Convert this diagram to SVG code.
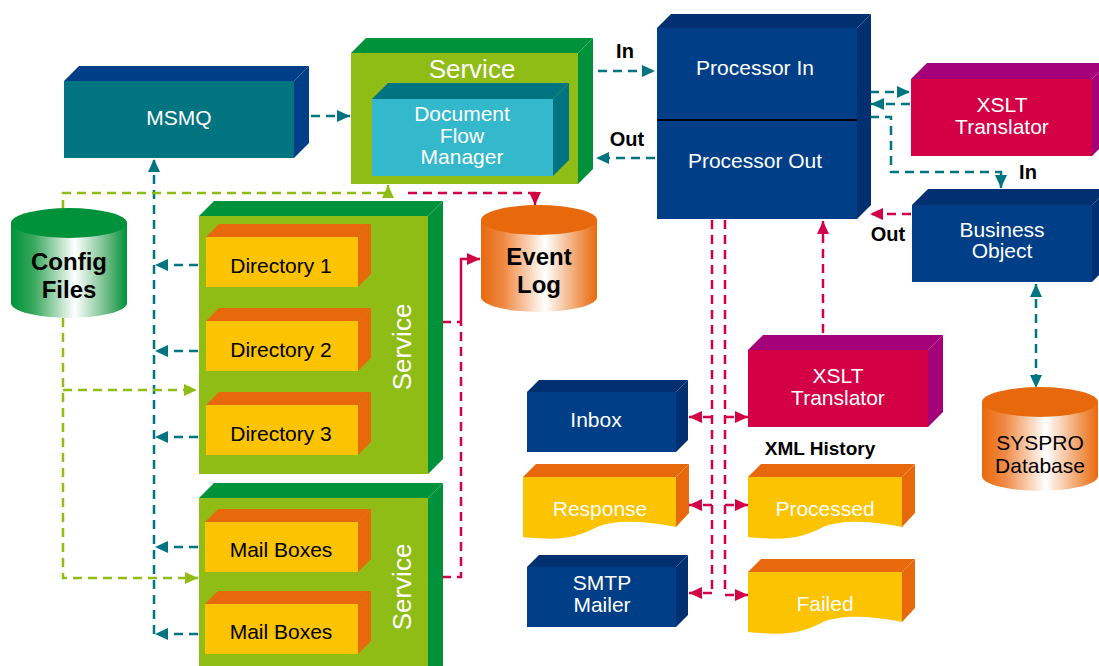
<svg xmlns="http://www.w3.org/2000/svg" width="1099" height="666" viewBox="0 0 1099 666">
<defs>
<style>
text{font-family:"Liberation Sans",Arial,sans-serif;}
.w{fill:#fff;font-size:21px;text-anchor:middle;}
.k{fill:#000;font-size:21px;text-anchor:middle;}
.kb{fill:#000;font-weight:bold;text-anchor:middle;}
.svc{fill:#fff;font-size:26px;text-anchor:middle;}
.teal{fill:none;stroke:#007480;stroke-width:2.5;stroke-dasharray:9 6;}
.grn{fill:none;stroke:#8fbc15;stroke-width:2.5;stroke-dasharray:9 6;}
.red{fill:none;stroke:#d40046;stroke-width:2.5;stroke-dasharray:9 6;}
.redS{fill:none;stroke:#d40046;stroke-width:2.5;}
.mt{marker-end:url(#aT);}
.mg{marker-end:url(#aG);}
.mr{marker-end:url(#aR);}
</style>
<marker id="aT" markerUnits="userSpaceOnUse" markerWidth="14" markerHeight="12" refX="13" refY="6" orient="auto-start-reverse"><path d="M0,0 L13,6 L0,12 Z" fill="#007480"/></marker>
<marker id="aG" markerUnits="userSpaceOnUse" markerWidth="14" markerHeight="12" refX="13" refY="6" orient="auto"><path d="M0,0 L13,6 L0,12 Z" fill="#8fbc15"/></marker>
<marker id="aR" markerUnits="userSpaceOnUse" markerWidth="14" markerHeight="12" refX="13" refY="6" orient="auto"><path d="M0,0 L13,6 L0,12 Z" fill="#d40046"/></marker>
<linearGradient id="gG" x1="0" y1="0" x2="1" y2="0"><stop offset="0" stop-color="#00923a"/><stop offset="0.2" stop-color="#3aa85e"/><stop offset="0.55" stop-color="#ffffff"/><stop offset="0.85" stop-color="#5fb57a"/><stop offset="1" stop-color="#00923a"/></linearGradient>
<linearGradient id="gO" x1="0" y1="0" x2="1" y2="0"><stop offset="0" stop-color="#e8690c"/><stop offset="0.2" stop-color="#f08a45"/><stop offset="0.55" stop-color="#ffffff"/><stop offset="0.85" stop-color="#f09a5a"/><stop offset="1" stop-color="#e8690c"/></linearGradient>
</defs>

<!-- connectors -->
<g id="connectors">
<path class="teal mt" d="M311,116 H350"/>
<path class="teal mt" d="M598,71 H655"/>
<path class="teal mt" d="M655,158 H596"/>
<path class="teal mt" d="M870,92 H910"/>
<path class="teal mt" d="M910,104 H871"/>
<path class="teal mt" d="M870,117 H891 V172 H1001 V188"/>
<path class="teal" d="M1036,284 V388" marker-start="url(#aT)" marker-end="url(#aT)"/>
<path class="teal mt" d="M154,634 V159"/>
<path class="teal mt" d="M198,265 H155"/>
<path class="teal mt" d="M198,351 H155"/>
<path class="teal mt" d="M198,437 H155"/>
<path class="teal mt" d="M198,547 H155"/>
<path class="teal mt" d="M198,634 H155"/>
<path class="grn mg" d="M63,209 V193 H388 V185"/>
<path class="grn mg" d="M63,318 V578 H198"/>
<path class="grn mg" d="M63,390 H197"/>
<path class="red mr" d="M408,193 H535 V205"/>
<path class="red" d="M442,577 H461 V322"/>
<path class="red" d="M442,322 H461"/>
<path class="redS mr" d="M461,322 V259 H480"/>
<path class="red" d="M712,220 V593"/>
<path class="red mr" d="M712,417 H689"/>
<path class="red mr" d="M712,505 H689"/>
<path class="red mr" d="M712,593 H689"/>
<path class="red" d="M725,220 V595"/>
<path class="red mr" d="M725,417 H748"/>
<path class="red mr" d="M725,505 H748"/>
<path class="red mr" d="M725,595 H748"/>
<path class="red mr" d="M823,333 V221"/>
<path class="red mr" d="M911,214 H870"/>
</g>

<!-- MSMQ -->
<g id="msmq">
<polygon points="64,81 79,66 309,66 294,81" fill="#003f87"/>
<polygon points="294,81 309,66 309,143 294,158" fill="#003f87"/>
<rect x="64" y="81" width="230" height="77" fill="#007480"/>
<text class="w" x="179" y="125">MSMQ</text>
</g>

<!-- Service with DFM -->
<g id="service-dfm">
<polygon points="351,53 366,38 593,38 578,53" fill="#00923a"/>
<polygon points="578,53 593,38 593,169 578,184" fill="#00923a"/>
<rect x="351" y="53" width="227" height="131" fill="#8fbc15"/>
<text class="svc" x="472" y="78">Service</text>
</g>
<g id="dfm">
<polygon points="372,99 388,83 569,83 553,99" fill="#007480"/>
<polygon points="553,99 569,83 569,160 553,176" fill="#007480"/>
<rect x="372" y="99" width="181" height="77" fill="#33b8cc"/>
<text class="w" x="462" y="121">Document</text>
<text class="w" x="462" y="143">Flow</text>
<text class="w" x="462" y="164">Manager</text>
</g>

<!-- Processor -->
<g id="processor">
<polygon points="657,28 671,14 871,14 857,28" fill="#003070"/>
<polygon points="857,28 871,14 871,205 857,219" fill="#003070"/>
<rect x="657" y="28" width="200" height="191" fill="#003f87"/>
<line x1="657" y1="120" x2="857" y2="120" stroke="#000" stroke-width="2"/>
<text class="w" x="755" y="75">Processor In</text>
<text class="w" x="755" y="168">Processor Out</text>
</g>
<g id="label-in"><text class="kb" x="625" y="58" font-size="20">In</text></g>
<g id="label-out"><text class="kb" x="627" y="146" font-size="20">Out</text></g>

<!-- XSLT top -->
<g id="xslt-top">
<polygon points="911,79 927,63 1108,63 1092,79" fill="#a3007a"/>
<polygon points="1092,79 1108,63 1108,140 1092,156" fill="#a3007a"/>
<rect x="911" y="79" width="181" height="77" fill="#d40046"/>
<text class="w" x="1002" y="112">XSLT</text>
<text class="w" x="1002" y="134">Translator</text>
</g>

<!-- Business Object -->
<g id="business-object">
<polygon points="912,205 928,189 1108,189 1092,205" fill="#003070"/>
<polygon points="1092,205 1108,189 1108,266 1092,282" fill="#003070"/>
<rect x="912" y="205" width="180" height="77" fill="#003f87"/>
<text class="w" x="1002" y="237">Business</text>
<text class="w" x="1002" y="258">Object</text>
</g>
<g id="label-in2"><text class="kb" x="1028" y="179" font-size="20">In</text></g>
<g id="label-out2"><text class="kb" x="888" y="241" font-size="20">Out</text></g>

<!-- SYSPRO Database -->
<g id="syspro-db">
<path d="M982,402 V476 A58,15 0 0 0 1098,476 V402 Z" fill="url(#gO)"/>
<ellipse cx="1040" cy="402" rx="58" ry="15" fill="#e8690c"/>
<text class="k" x="1040" y="450">SYSPRO</text>
<text class="k" x="1040" y="473">Database</text>
</g>

<!-- Config Files -->
<g id="config-files">
<path d="M11,223 V303 A58,15 0 0 0 127,303 V223 Z" fill="url(#gG)"/>
<ellipse cx="69" cy="223" rx="58" ry="15" fill="#00923a"/>
<text class="kb" x="69" y="270" font-size="24">Config</text>
<text class="kb" x="69" y="298" font-size="24">Files</text>
</g>

<!-- Event Log -->
<g id="event-log">
<path d="M481,220 V297 A58,15 0 0 0 597,297 V220 Z" fill="url(#gO)"/>
<ellipse cx="539" cy="220" rx="58" ry="15" fill="#e8690c"/>
<text class="kb" x="539" y="265" font-size="24">Event</text>
<text class="kb" x="539" y="293" font-size="24">Log</text>
</g>

<!-- Directory service -->
<g id="service-dirs">
<polygon points="199,216 214,201 443,201 428,216" fill="#00923a"/>
<polygon points="428,216 443,201 443,459 428,474" fill="#00923a"/>
<rect x="199" y="216" width="229" height="258" fill="#8fbc15"/>
<text class="svc" transform="translate(411,347) rotate(-90)">Service</text>
</g>
<g id="dir1">
<polygon points="206,237 219,224 371,224 358,237" fill="#e8690c"/>
<polygon points="358,237 371,224 371,274 358,287" fill="#e8690c"/>
<rect x="206" y="237" width="152" height="50" fill="#fbc300"/>
<text class="k" x="281" y="273">Directory 1</text>
</g>
<g id="dir2">
<polygon points="206,321 219,308 371,308 358,321" fill="#e8690c"/>
<polygon points="358,321 371,308 371,358 358,371" fill="#e8690c"/>
<rect x="206" y="321" width="152" height="50" fill="#fbc300"/>
<text class="k" x="281" y="357">Directory 2</text>
</g>
<g id="dir3">
<polygon points="206,405 219,392 371,392 358,405" fill="#e8690c"/>
<polygon points="358,405 371,392 371,442 358,455" fill="#e8690c"/>
<rect x="206" y="405" width="152" height="50" fill="#fbc300"/>
<text class="k" x="281" y="441">Directory 3</text>
</g>

<!-- Mail service -->
<g id="service-mail">
<polygon points="199,498 214,483 443,483 428,498" fill="#00923a"/>
<polygon points="428,498 443,483 443,680 428,690" fill="#00923a"/>
<rect x="199" y="498" width="229" height="180" fill="#8fbc15"/>
<text class="svc" transform="translate(411,587) rotate(-90)">Service</text>
</g>
<g id="mail1">
<polygon points="205,522 218,509 371,509 358,522" fill="#e8690c"/>
<polygon points="358,522 371,509 371,559 358,572" fill="#e8690c"/>
<rect x="205" y="522" width="153" height="50" fill="#fbc300"/>
<text class="k" x="281" y="557">Mail Boxes</text>
</g>
<g id="mail2">
<polygon points="205,604 218,591 371,591 358,604" fill="#e8690c"/>
<polygon points="358,604 371,591 371,641 358,654" fill="#e8690c"/>
<rect x="205" y="604" width="153" height="50" fill="#fbc300"/>
<text class="k" x="281" y="639">Mail Boxes</text>
</g>

<!-- Inbox -->
<g id="inbox">
<polygon points="527,392 539,380 688,380 676,392" fill="#003070"/>
<polygon points="676,392 688,380 688,440 676,452" fill="#003070"/>
<rect x="527" y="392" width="149" height="60" fill="#003f87"/>
<text class="w" x="596" y="427">Inbox</text>
</g>

<!-- SMTP Mailer -->
<g id="smtp-mailer">
<polygon points="527,567 539,555 688,555 676,567" fill="#003070"/>
<polygon points="676,567 688,555 688,615 676,627" fill="#003070"/>
<rect x="527" y="567" width="149" height="60" fill="#003f87"/>
<text class="w" x="602" y="590">SMTP</text>
<text class="w" x="602" y="612">Mailer</text>
</g>

<!-- XSLT bottom -->
<g id="xslt-bottom">
<polygon points="748,350 763,335 943,335 928,350" fill="#a3007a"/>
<polygon points="928,350 943,335 943,412 928,427" fill="#a3007a"/>
<rect x="748" y="350" width="180" height="77" fill="#d40046"/>
<text class="w" x="838" y="383">XSLT</text>
<text class="w" x="838" y="405">Translator</text>
</g>

<g id="xml-history-label"><text class="kb" x="820" y="455" font-size="19">XML History</text></g>

<!-- Response -->
<g id="response">
<polygon points="523,477 536,464 689,464 676,477" fill="#e8690c"/>
<polygon points="676,477 689,464 689,513 676,527" fill="#e8690c"/>
<path d="M523,477 H676 V527 C645,521 615,519 595,528 C575,538 560,541 523,537 Z" fill="#fbc300"/>
<text class="w" x="600" y="516">Response</text>
</g>

<!-- Processed -->
<g id="processed">
<polygon points="748,477 761,464 915,464 902,477" fill="#e8690c"/>
<polygon points="902,477 915,464 915,513 902,527" fill="#e8690c"/>
<path d="M748,477 H902 V527 C871,521 841,519 821,528 C801,538 786,541 748,537 Z" fill="#fbc300"/>
<text class="w" x="825" y="516">Processed</text>
</g>

<!-- Failed -->
<g id="failed">
<polygon points="748,572 761,559 915,559 902,572" fill="#e8690c"/>
<polygon points="902,572 915,559 915,608 902,622" fill="#e8690c"/>
<path d="M748,572 H902 V622 C871,616 841,614 821,623 C801,633 786,636 748,632 Z" fill="#fbc300"/>
<text class="w" x="825" y="611">Failed</text>
</g>
</svg>
